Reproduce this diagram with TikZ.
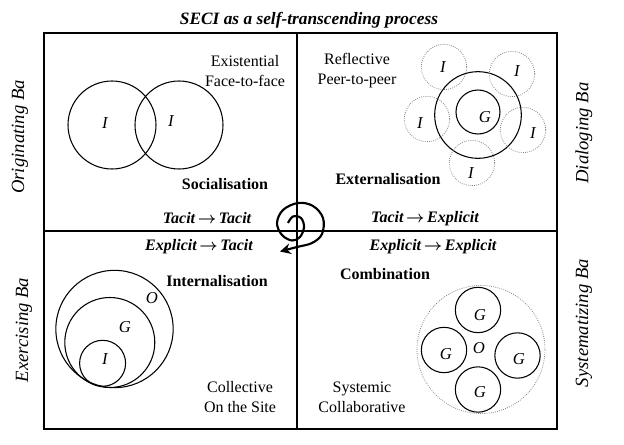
\documentclass[tikz,border=0pt]{standalone}
\usepackage{fontspec}
\setmainfont{Liberation Serif}
\usetikzlibrary{arrows.meta}
\newcommand{\toarrow}{\,{\boldmath$\rightarrow$}\,}

\begin{document}
\begin{tikzpicture}[x=0.75pt,y=-0.75pt,
	txt/.style={font=\fontsize{12}{15}\selectfont,align=center,inner sep=0pt},
	mode/.style={txt,font=\fontsize{12}{15}\selectfont\bfseries},
	flow/.style={txt,font=\fontsize{12}{15}\selectfont\bfseries\itshape},
	who/.style={txt,font=\fontsize{12.5}{15}\selectfont\itshape},
	ba/.style={font=\fontsize{14}{16}\selectfont\itshape,rotate=90,inner sep=0pt}]
	\useasboundingbox (0,0) rectangle (624,445);
	
	% frame
	\coordinate (nw) at (44,33);
	\coordinate (se) at (557,429);
	\coordinate (top) at (297,33);
	\coordinate (bot) at (297,429);
	\coordinate (lft) at (44,231);
	\coordinate (rgt) at (557,231);
	\draw[line width=0.8pt] (nw) rectangle (se);
	\draw[line width=0.8pt] (top) -- (bot);
	\draw[line width=0.8pt] (lft) -- (rgt);
	
	\node[txt,font=\fontsize{13}{15}\selectfont\bfseries\itshape] (title) at (309,20) {SECI as a self-transcending process};
	
	\node[ba] (orig) at (20,137) {Originating Ba};
	\node[ba] (exer) at (24,330) {Exercising Ba};
	\node[ba] (dial) at (584,133) {Dialoging Ba};
	\node[ba] (syst) at (584,323) {Systematizing Ba};
	
	% socialisation
	\node[txt] (soc-t) at (245,71) {Existential\\Face-to-face};
	\node[mode] (soc) at (225,184) {Socialisation};
	\node[flow] (soc-f) at (207,218) {Tacit\toarrow Tacit};
	
	% externalisation
	\node[txt] (ext-t) at (357,71) {Reflective\\Peer-to-peer};
	\node[mode] (ext) at (388,179) {Externalisation};
	\node[flow] (ext-f) at (425,219) {Tacit\toarrow Explicit};
	
	% internalisation
	\node[flow] (int-f) at (199,247) {Explicit\toarrow Tacit};
	\node[mode] (int) at (217,281) {Internalisation};
	\node[txt] (int-t) at (240,397) {Collective\\On the Site};
	
	% combination
	\node[flow] (com-f) at (433,247) {Explicit\toarrow Explicit};
	\node[mode] (com) at (385,274) {Combination};
	\node[txt] (com-t) at (362,397) {Systemic\\Collaborative};
	
	\begin{scope}[every node/.style={circle,draw,line width=0.8pt,inner sep=0pt}]
	\node[minimum size=66pt] (soc-1) at (112,125) {};
	\node[minimum size=66pt] (soc-2) at (179,125) {};
	
	\node[minimum size=65pt] (ext-o) at (478,115) {};
	\node[minimum size=33pt] (ext-g) at (478,112) {};
	
	\node[minimum size=88pt] (int-o) at (114.5,329) {};
	\node[minimum size=67.5pt] (int-g) at (109.8,342.5) {};
	\node[minimum size=34.5pt] (int-i) at (102.6,363.3) {};
	
	\node[minimum size=34pt] (com-1) at (478,310) {};
	\node[minimum size=34pt] (com-2) at (444,350) {};
	\node[minimum size=34pt] (com-3) at (517.5,355.5) {};
	\node[minimum size=34pt] (com-4) at (478,389.5) {};
	\end{scope}
	
	\begin{scope}[every node/.style={circle,draw=gray,densely dotted,line width=0.6pt,inner sep=0pt}]
	\node[minimum size=34pt] (ext-1) at (444,67) {};
	\node[minimum size=34pt] (ext-2) at (512,74) {};
	\node[minimum size=34pt] (ext-3) at (427,119) {};
	\node[minimum size=34pt] (ext-4) at (523,130) {};
	\node[minimum size=34pt] (ext-5) at (472,163) {};
	\node[minimum size=96pt] (com-o) at (481,349.5) {};
	\end{scope}
	
	% letters
	\node[who] (soc-1l) at (105,123) {I};
	\node[who] (soc-2l) at (171,121) {I};
	\node[who] (ext-gl) at (485,117) {G};
	\node[who] (ext-1l) at (443,67) {I};
	\node[who] (ext-2l) at (517,71) {I};
	\node[who] (ext-3l) at (420,123) {I};
	\node[who] (ext-4l) at (533,133) {I};
	\node[who] (ext-5l) at (471,173) {I};
	\node[who] (int-ol) at (152,298) {O};
	\node[who] (int-gl) at (125,327) {G};
	\node[who] (int-il) at (105,359) {I};
	\node[who] (com-1l) at (480,315) {G};
	\node[who] (com-2l) at (446,354) {G};
	\node[who] (com-3l) at (519,359) {G};
	\node[who] (com-4l) at (480,392) {G};
	\node[who] (com-ol) at (479,348) {O};
	
	% spiral
	\draw[line width=1.6pt,-{Stealth[length=8pt,width=8pt]}] plot[smooth,tension=0.6] coordinates {(288,223) (293,216.5) (301,218) (304,227) (300,237) (292,240.5) (282,235) (277,223) (283,210) (298,203) (313,206) (323,218) (322,234) (312,243) (297,247) (280,251.5)};
\end{tikzpicture}
\end{document}
